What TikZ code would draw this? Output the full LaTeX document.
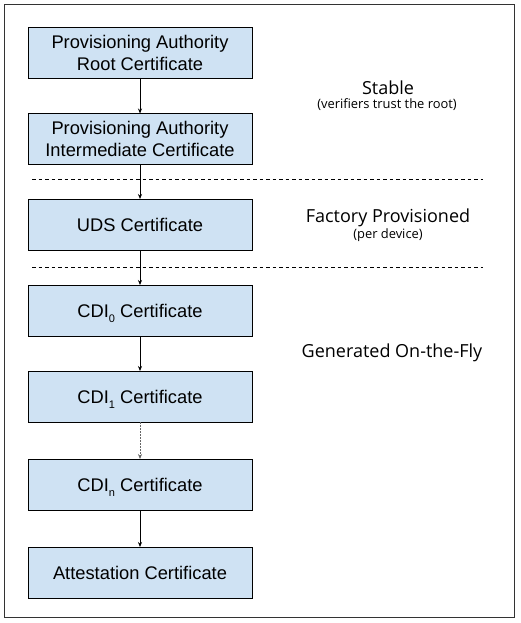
\documentclass[tikz,border=0pt]{standalone}
\usepackage{fontspec}
\setmainfont{Liberation Sans}
\newfontfamily\notefont{Open Sans}
\usetikzlibrary{positioning,arrows.meta}
\definecolor{certblue}{HTML}{CFE2F3}
\definecolor{framegray}{HTML}{333333}
\definecolor{dotgray}{HTML}{666666}
\newcommand{\lowsub}[1]{\raisebox{-5pt}[0pt][0pt]{\fontsize{11}{11}\selectfont #1}}

\begin{document}
\begin{tikzpicture}[x=1pt,y=1pt,
  cert/.style={draw=black, fill=certblue, line width=0.8pt, minimum width=224pt,
    minimum height=51pt, inner sep=0pt, outer sep=0pt, align=center,
    font=\fontsize{18.3}{22}\selectfont},
  link/.style={-{Stealth[length=5pt,width=4pt]}, line width=0.7pt},
  note/.style={anchor=base, font=\notefont\fontsize{18}{20}\selectfont},
  subnote/.style={anchor=base, font=\notefont\fontsize{12.9}{15}\selectfont},
  divider/.style={dash pattern=on 3.5pt off 3pt, line width=0.7pt},
  node distance=35.5pt]
  % frame
  \useasboundingbox (0,0) rectangle (521,-623);
  \draw[framegray, line width=0.8pt] (4,-4) rectangle (514,-617);

  % certificate chain
  \node[cert] (root) at (140,-52.5) {Provisioning Authority\\Root Certificate};
  \node[cert] (inter) [below=of root] {Provisioning Authority\\Intermediate Certificate};
  \node[cert] (uds) [below=34.5pt of inter] {UDS Certificate};
  \node[cert] (cdi0) [below=35pt of uds] {CDI\lowsub{0} Certificate};
  \node[cert] (cdi1) [below=35pt of cdi0] {CDI\lowsub{1} Certificate};
  \node[cert] (cdin) [below=37pt of cdi1] {CDI\lowsub{n} Certificate};
  \node[cert] (attest) [below=37pt of cdin] {Attestation Certificate};

  % stage dividers
  \coordinate (d1a) at (32,-179);
  \coordinate (d1b) at (483,-179);
  \coordinate (d2a) at (32,-267);
  \coordinate (d2b) at (483,-267);
  \draw[divider] (d1a) -- (d1b);
  \draw[divider] (d2a) -- (d2b);

  \path[link]
    (root) edge (inter)
    (inter) edge (uds)
    (uds) edge (cdi0)
    (cdi0) edge (cdi1)
    (cdin) edge (attest);
  \draw[link, dotgray, dash pattern=on 1.5pt off 1.5pt, line width=0.8pt] (cdi1) -- (cdin);

  % stage labels
  \node[note] (stable) at (388,-95) {Stable};
  \node[subnote] (stablesub) at (387,-108.5) {(verifiers trust the root)};
  \node[note] (factory) at (388,-222) {Factory Provisioned};
  \node[subnote] (factorysub) at (388,-238.5) {(per device)};
  \node[note] (onthefly) at (392,-357) {Generated On-the-Fly};
\end{tikzpicture}
\end{document}
